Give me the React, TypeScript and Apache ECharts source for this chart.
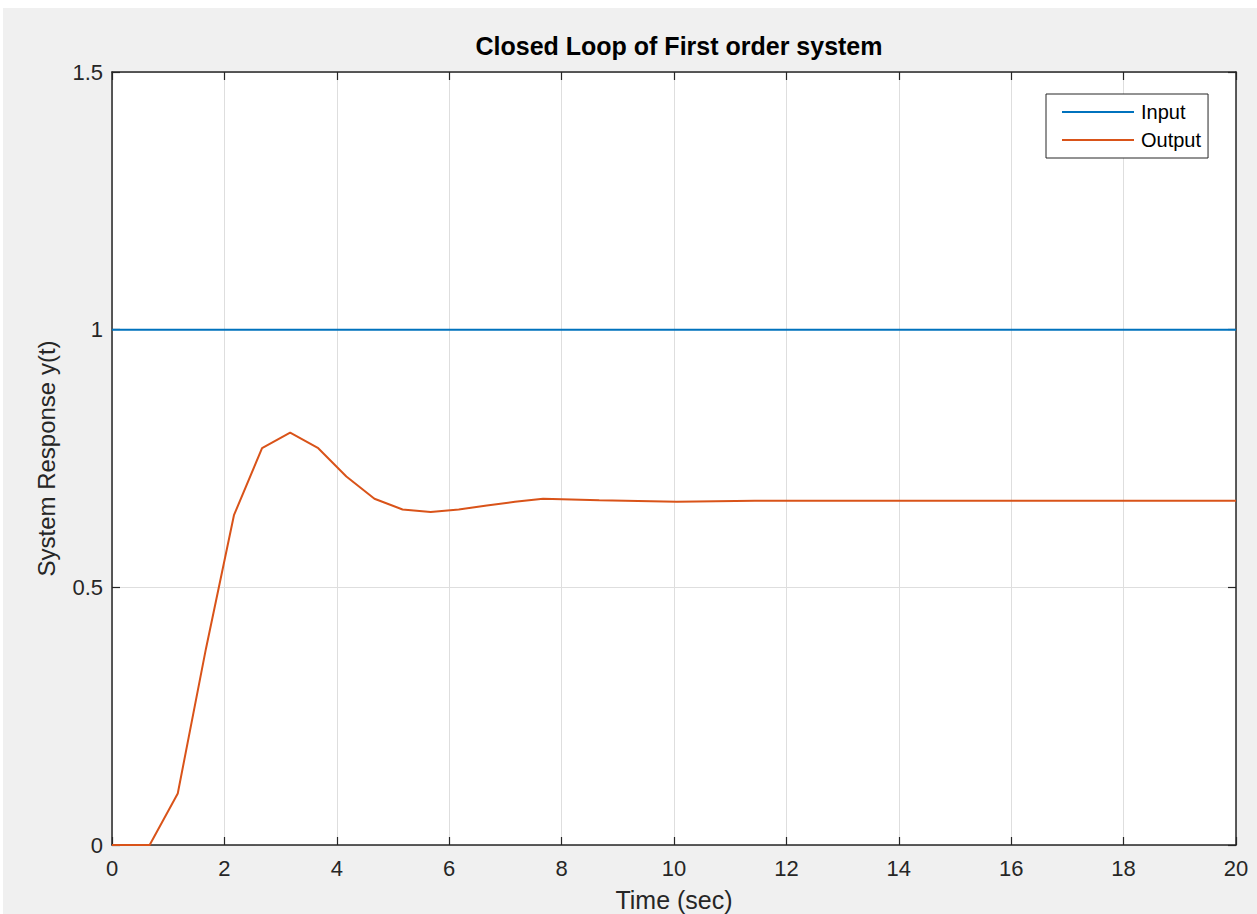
import React, { useEffect, useRef } from "react";
import * as echarts from "echarts";

const titleText = "Closed Loop of First order system";
const xName = "Time (sec)";
const yName = "System Response y(t)";
const seriesNames = ["Input", "Output"];

const inputT = [0, 20];
const inputY = [1, 1];

const outputT = [0, 0.67, 1.17, 1.67, 2.17, 2.67, 3.17, 3.67, 4.17, 4.67, 5.17, 5.67, 6.17, 6.67, 7.17, 7.67, 8.67, 10.05, 11.44, 20];
const outputY = [0, 0, 0.1, 0.38, 0.64, 0.77, 0.8, 0.77, 0.715, 0.672, 0.651, 0.646, 0.651, 0.659, 0.666, 0.672, 0.669, 0.666, 0.668, 0.668];

const xTicks = [0, 20, 2];
const yTicks = [0, 1.5, 0.5];

const FONT = "Liberation Sans, Arial, Helvetica, sans-serif";
const TXT = "#262626";

export default function App() {
  const ref = useRef<HTMLDivElement>(null);
  useEffect(() => {
    if (!ref.current) return;
    const chart = echarts.init(ref.current, undefined, { renderer: "svg" });
    const axisCommon = {
      axisLine: { show: true, onZero: false, lineStyle: { color: TXT, width: 1.5 } },
      axisTick: { show: true, inside: true, length: 8, lineStyle: { color: TXT, width: 1.2 } },
    };
    chart.setOption({
      animation: false,
      backgroundColor: "#f0f0f0",
      textStyle: { fontFamily: FONT },
      title: {
        text: titleText,
        left: 674,
        textAlign: "center",
        top: 28,
        textStyle: { fontFamily: FONT, fontSize: 25, fontWeight: "bold", color: "#000" },
      },
      legend: {
        orient: "vertical",
        left: 1046,
        top: 94,
        backgroundColor: "#ffffff",
        borderColor: TXT,
        borderWidth: 1,
        padding: [8, 7, 8, 16],
        icon: "rect",
        itemWidth: 72,
        itemHeight: 2,
        itemGap: 8,
        textStyle: { fontFamily: FONT, fontSize: 20, lineHeight: 20, color: "#000", padding: [0, 0, 0, 2] },
        data: seriesNames,
      },
      grid: {
        left: 112,
        top: 72,
        right: 21,
        bottom: 69,
        outerBoundsMode: "none",
        containLabel: false,
        backgroundColor: "#ffffff",
        show: true,
        borderWidth: 0,
      },
      xAxis: [
        {
          type: "value",
          min: xTicks[0],
          max: xTicks[1],
          interval: xTicks[2],
          name: xName,
          nameLocation: "middle",
          nameGap: 42,
          nameTextStyle: { fontFamily: FONT, fontSize: 25, color: TXT },
          ...axisCommon,
          axisLabel: { fontFamily: FONT, fontSize: 22, color: TXT, margin: 12 },
          splitLine: { show: true, lineStyle: { color: "#dedede", width: 1 } },
        },
        {
          type: "value",
          position: "top",
          min: xTicks[0],
          max: xTicks[1],
          interval: xTicks[2],
          ...axisCommon,
          axisLabel: { show: false },
          splitLine: { show: false },
        },
      ],
      yAxis: [
        {
          type: "value",
          min: yTicks[0],
          max: yTicks[1],
          interval: yTicks[2],
          name: yName,
          nameLocation: "middle",
          nameGap: 54,
          nameTextStyle: { fontFamily: FONT, fontSize: 24, color: TXT },
          ...axisCommon,
          axisLabel: { fontFamily: FONT, fontSize: 22, color: TXT, margin: 9 },
          splitLine: { show: true, lineStyle: { color: "#dedede", width: 1 } },
        },
        {
          type: "value",
          position: "right",
          min: yTicks[0],
          max: yTicks[1],
          interval: yTicks[2],
          ...axisCommon,
          axisLabel: { show: false },
          splitLine: { show: false },
        },
      ],
      series: [
        {
          name: seriesNames[0],
          type: "line",
          symbol: "none",
          lineStyle: { color: "#0072BD", width: 2 },
          itemStyle: { color: "#0072BD" },
          data: inputT.map((t, i) => [t, inputY[i]]),
        },
        {
          name: seriesNames[1],
          type: "line",
          symbol: "none",
          lineStyle: { color: "#D95319", width: 2 },
          itemStyle: { color: "#D95319" },
          data: outputT.map((t, i) => [t, outputY[i]]),
        },
      ],
      graphic: [
        { type: "rect", shape: { x: 0, y: 0, width: 1257, height: 8 }, style: { fill: "#ffffff" }, silent: true },
        { type: "rect", shape: { x: 0, y: 0, width: 3, height: 914 }, style: { fill: "#ffffff" }, silent: true },
      ],
    });
    return () => chart.dispose();
  }, []);
  return (
    <div
      ref={ref}
      style={{ position: "absolute", left: 0, top: 0, width: 1257, height: 914 }}
    />
  );
}
